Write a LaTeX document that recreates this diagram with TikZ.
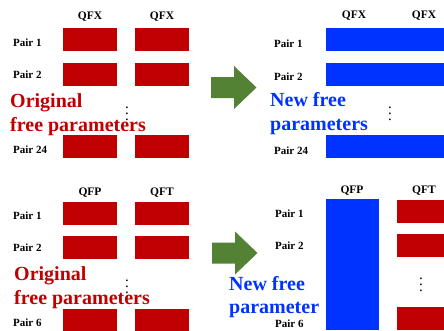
\documentclass[tikz,border=0pt]{standalone}
\usepackage{fontspec}
\setmainfont{Liberation Serif}
\usetikzlibrary{positioning}
\definecolor{parred}{RGB}{192,0,0}
\definecolor{parblue}{RGB}{0,51,255}
\definecolor{arrgreen}{RGB}{84,130,53}
\newcommand{\greenarrow}[1]{\fill[arrgreen] (#1) ++(0,-10.5) -- ++(23,0) -- ++(0,-11)
  -- ++(22.5,21.5) -- ++(-22.5,21.5) -- ++(0,-11) -- ++(-23,0) -- cycle;}

\begin{document}
\begin{tikzpicture}[x=1pt,y=-1pt,
		redbar/.style={fill=parred,inner sep=0pt,anchor=north west,minimum width=54pt,minimum height=22.5pt},
		bluebar/.style={fill=parblue,inner sep=0pt,anchor=north west,minimum height=22.5pt},
		pairlab/.style={font=\bfseries\fontsize{11}{11}\selectfont,anchor=base west,inner sep=0pt},
		headlab/.style={font=\bfseries\fontsize{11.5}{11.5}\selectfont,anchor=base,inner sep=0pt},
		bigtext/.style={font=\bfseries\fontsize{20}{24}\selectfont,anchor=base west,inner sep=0pt},
		vdot/.style={font=\boldmath,scale=1.5,inner sep=0pt}]
		\useasboundingbox (0,0) rectangle (444,330);
		
		% top left: original QFX pairs
		\node[headlab] (hx1) at (90,19) {QFX};
		\node[headlab] (hx2) at (162,19) {QFX};
		\node[pairlab] (pa1) at (13,46) {Pair 1};
		\node[pairlab] (pa2) at (13,78) {Pair 2};
		\node[pairlab] (pa24) at (13,153) {Pair 24};
		\node[redbar] (ra1) at (63,28) {};
		\node[redbar] (rb1) at (135,28) {};
		\node[redbar] (ra2) at (63,63) {};
		\node[redbar] (rb2) at (135,63) {};
		\node[redbar] (ra24) at (63,135) {};
		\node[redbar] (rb24) at (135,135) {};
		\node[vdot] (da) at (127,109) {$\vdots$};
		\node[bigtext,text=parred] (origa) at (10,107) {Original};
		\node[bigtext,text=parred] (origb) at (10,131) {free parameters};
		
		\greenarrow{211,87.5}
		
		% top right: new QFX pairs
		\node[headlab] (nx1) at (354,18) {QFX};
		\node[headlab] (nx2) at (424,18) {QFX};
		\node[pairlab] (qa1) at (274,47) {Pair 1};
		\node[pairlab] (qa2) at (274,80) {Pair 2};
		\node[pairlab] (qa24) at (274,154) {Pair 24};
		\node[bluebar,minimum width=118pt] (ba1) at (326,28) {};
		\node[bluebar,minimum width=118pt] (ba2) at (326,63) {};
		\node[bluebar,minimum width=118pt] (ba24) at (326,135) {};
		\node[vdot] (db) at (390,109) {$\vdots$};
		\node[bigtext,text=parblue] (newa) at (270,106) {New free};
		\node[bigtext,text=parblue] (newb) at (270,130) {parameters};
		
		% bottom left: original QFP/QFT pairs
		\node[headlab] (hp) at (90,195) {QFP};
		\node[headlab] (ht) at (162,195) {QFT};
		\node[pairlab] (pc1) at (13,219) {Pair 1};
		\node[pairlab] (pc2) at (13,251) {Pair 2};
		\node[pairlab] (pc6) at (13,326) {Pair 6};
		\node[redbar] (rc1) at (63,202) {};
		\node[redbar] (rd1) at (135,202) {};
		\node[redbar] (rc2) at (63,236) {};
		\node[redbar] (rd2) at (135,236) {};
		\node[redbar] (rc6) at (63,309) {};
		\node[redbar] (rd6) at (135,309) {};
		\node[vdot] (dc) at (127,282) {$\vdots$};
		\node[bigtext,text=parred] (origc) at (14,280) {Original};
		\node[bigtext,text=parred] (origd) at (14,304) {free parameters};
		
		\greenarrow{212,253}
		
		% bottom right: one new QFP parameter
		\node[headlab] (np) at (352,193) {QFP};
		\node[headlab] (nt) at (424,193) {QFT};
		\node[pairlab] (qc1) at (275,217) {Pair 1};
		\node[pairlab] (qc2) at (275,249) {Pair 2};
		\node[pairlab] (qc6) at (275,327) {Pair 6};
		\node[bluebar,minimum width=53pt,minimum height=131pt] (bp) at (326,199) {};
		\node[redbar,minimum width=47pt] (rt1) at (397,200) {};
		\node[redbar,minimum width=47pt] (rt2) at (397,234) {};
		\node[redbar,minimum width=47pt] (rt6) at (397,307) {};
		\node[vdot] (dd) at (421,280) {$\vdots$};
		\node[bigtext,text=parblue] (newc) at (229,290) {New free};
		\node[bigtext,text=parblue] (newd) at (229,313) {parameter};
\end{tikzpicture}
\end{document}
